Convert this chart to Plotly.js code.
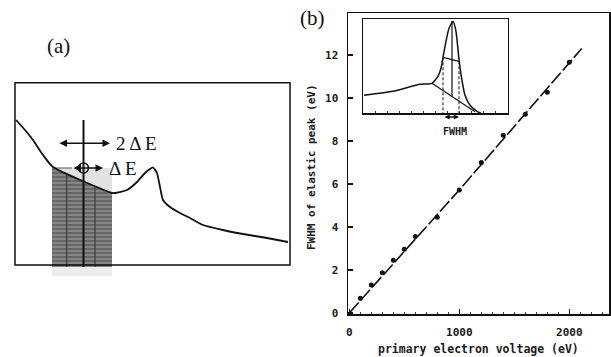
<!DOCTYPE html>
<html>
<head>
<meta charset="utf-8">
<script src="https://cdn.plot.ly/plotly-3.0.1.min.js"></script>
<style>html,body{margin:0;padding:0;background:#fff}#chart{width:611px;height:357px}</style>
</head>
<body>
<div id="chart"></div>
<script>
// ---- panel (b): measured FWHM of elastic peak vs primary voltage ----
const voltage = [100, 200, 300, 400, 500, 600, 800, 1000, 1200, 1400, 1600, 1800, 2000];
const fwhm    = [0.68, 1.3, 1.87, 2.45, 2.96, 3.55, 4.45, 5.72, 7.0, 8.26, 9.24, 10.26, 11.66];
const fitVoltage = [0, 1000, 2113];
const fitFwhm    = [0, 5.72, 12.3];
const xTickVals = [0, 1000, 2000];
const yTickVals = [0, 2, 4, 6, 8, 10, 12];

// ---- inset of (b): schematic elastic peak ----
const insetE = [1, 30, 57, 69, 75, 78, 80, 83, 86, 90, 93, 96, 99, 102, 107, 114, 118];
const insetI = [18, 22, 29, 30, 37, 45, 56, 72, 85, 92, 82, 54, 33, 18, 8, 2, 0];
const insetBgE = [69, 112];
const insetBgI = [30, 1.6];
const insetHalfE = [80, 96];
const insetHalfI = [56, 52];
const insetCenterE = [89, 89];
const insetCenterI = [92, 16.5];

// ---- panel (a): schematic spectrum ----
const specE = [1, 10, 18, 28, 38, 97, 100, 112, 122, 130, 135, 138, 142, 145, 148, 155, 165, 175, 188, 208, 228, 252, 273];
const specI = [145, 135, 125, 110, 98, 72, 72, 75, 83, 92, 96, 97.5, 92, 78, 65, 58, 52, 47, 40, 35, 31, 27, 23];
const shadeE = [37, 97, 97, 37, 37];
const shadeI = [97, 72, -2, -2, 97];
const lightE = [37, 97, 97, 37];
const lightI = [97, 97, 72, 97];
const shadowE = [37, 97, 97, 37, 37];
const shadowI = [-2, -2, -11, -11, -2];
const windowE = 68.5;

const W = 611, H = 357;
const px = v => v / W, py = v => 1 - v / H;

const traces = [
  // panel (a)
  {x: shadowE, y: shadowI, xaxis: 'x2', yaxis: 'y2', mode: 'lines', fill: 'toself',
   fillcolor: '#ececec', line: {width: 0}, hoverinfo: 'skip'},
  {x: lightE, y: lightI, xaxis: 'x2', yaxis: 'y2', mode: 'lines', fill: 'toself',
   fillcolor: '#e2e2e2', line: {width: 0}, hoverinfo: 'skip'},
  {x: shadeE, y: shadeI, xaxis: 'x2', yaxis: 'y2', mode: 'lines', fill: 'toself',
   fillcolor: '#7c7c7c', line: {width: 0},
   fillpattern: {shape: '-', bgcolor: '#858585', fgcolor: '#5a5a5a', size: 4, solidity: 0.35},
   hoverinfo: 'skip'},
  {x: [37, 57], y: [97, 97], xaxis: 'x2', yaxis: 'y2', mode: 'lines',
   line: {color: '#555', width: 1}, hoverinfo: 'skip'},
  {x: specE, y: specI, xaxis: 'x2', yaxis: 'y2', mode: 'lines',
   line: {color: '#111', width: 1.8, shape: 'spline', smoothing: 0.5}, hoverinfo: 'skip'},
  {x: [51.7, 51.7], y: [90.8, -2], xaxis: 'x2', yaxis: 'y2', mode: 'lines',
   line: {color: '#333', width: 1}, hoverinfo: 'skip'},
  {x: [80, 80], y: [78.9, -2], xaxis: 'x2', yaxis: 'y2', mode: 'lines',
   line: {color: '#333', width: 1}, hoverinfo: 'skip'},
  {x: [windowE, windowE], y: [145, -2], xaxis: 'x2', yaxis: 'y2', mode: 'lines',
   line: {color: '#111', width: 2}, hoverinfo: 'skip'},
  {x: [windowE], y: [97], xaxis: 'x2', yaxis: 'y2', mode: 'markers',
   marker: {symbol: 'circle-open', size: 10, color: '#111', line: {width: 1.6, color: '#111'}}, hoverinfo: 'skip'},

  // panel (b) main
  {x: fitVoltage, y: fitFwhm, mode: 'lines', line: {color: '#111', width: 1.6, dash: '14px,3px'}, hoverinfo: 'skip'},
  {x: voltage, y: fwhm, mode: 'markers', marker: {color: '#111', size: 5, symbol: 'circle'}},

  // inset
  {x: insetE, y: insetI, xaxis: 'x3', yaxis: 'y3', mode: 'lines',
   line: {color: '#111', width: 1.5, shape: 'spline', smoothing: 0.5}, hoverinfo: 'skip'},
  {x: insetBgE, y: insetBgI, xaxis: 'x3', yaxis: 'y3', mode: 'lines', line: {color: '#111', width: 1.2}, hoverinfo: 'skip'},
  {x: insetHalfE, y: insetHalfI, xaxis: 'x3', yaxis: 'y3', mode: 'lines', line: {color: '#111', width: 1.2}, hoverinfo: 'skip'},
  {x: insetCenterE, y: insetCenterI, xaxis: 'x3', yaxis: 'y3', mode: 'lines', line: {color: '#111', width: 1.2}, hoverinfo: 'skip'},
  {x: [insetHalfE[0], insetHalfE[0]], y: [insetHalfI[0], 0], xaxis: 'x3', yaxis: 'y3', mode: 'lines',
   line: {color: '#111', width: 1, dash: '3px,2px'}, hoverinfo: 'skip'},
  {x: [insetHalfE[1], insetHalfE[1]], y: [insetHalfI[1], 0], xaxis: 'x3', yaxis: 'y3', mode: 'lines',
   line: {color: '#111', width: 1, dash: '3px,2px'}, hoverinfo: 'skip'}
];

const tickFont = {family: 'DejaVu Sans Mono', size: 11, color: '#1a1a1a', weight: 'bold'};
const monoBold = {family: 'DejaVu Sans Mono', size: 11, color: '#1a1a1a', weight: 'bold'};
const serif = {family: 'Liberation Serif', size: 21, color: '#111'};

const arrow = (xr, yr, x0, x1, y) => ({
  xref: xr, yref: yr, axref: xr, ayref: yr, x: x1, y: y, ax: x0, ay: y,
  text: '', showarrow: true, arrowhead: 2, arrowside: 'end+start', arrowsize: 1,
  arrowwidth: 1.5, arrowcolor: '#111', standoff: 0, startstandoff: 0
});

const layout = {
  width: W, height: H,
  margin: {l: 0, r: 0, t: 0, b: 0},
  paper_bgcolor: '#fff', plot_bgcolor: '#fff',
  showlegend: false,
  xaxis: {
    domain: [px(348), px(609)], range: [-12, 2361], anchor: 'y',
    showline: true, linecolor: '#111', linewidth: 1.5, mirror: true,
    ticks: 'inside', ticklen: 5, tickwidth: 1.3, tickcolor: '#111',
    tickvals: xTickVals, ticktext: xTickVals.map(String), tickfont: tickFont,
    ticklabelstandoff: 7,
    minor: {dtick: 100, ticks: 'inside', ticklen: 2, tickcolor: '#333'},
    showgrid: false, zeroline: false, automargin: false
  },
  yaxis: {
    domain: [py(314), py(13)], range: [-0.05, 13.95], anchor: 'x',
    showline: true, linecolor: '#111', linewidth: 1.5, mirror: true,
    ticks: 'inside', ticklen: 5, tickwidth: 1.3, tickcolor: '#111',
    tickvals: yTickVals, ticktext: yTickVals.map(String), tickfont: tickFont,
    ticklabelstandoff: 6,
    showgrid: false, zeroline: false, automargin: false
  },
  xaxis2: {domain: [px(10), px(295)], range: [-5, 280], anchor: 'y2', visible: false},
  yaxis2: {domain: [py(285), py(75)], range: [-20, 190], anchor: 'x2', visible: false},
  xaxis3: {
    domain: [px(363), px(508)], range: [0, 145], anchor: 'y3',
    showline: true, linecolor: '#111', linewidth: 1.3, mirror: true,
    ticks: 'inside', ticklen: 2, dtick: 12, tickcolor: '#333', showticklabels: false,
    showgrid: false, zeroline: false
  },
  yaxis3: {
    domain: [py(113.3), py(19)], range: [0, 94.3], anchor: 'x3',
    showline: true, linecolor: '#111', linewidth: 1.3, mirror: true,
    ticks: '', showticklabels: false, showgrid: false, zeroline: false
  },
  shapes: [
    {type: 'rect', xref: 'x2', yref: 'y2', x0: 0, x1: 275, y0: 0, y1: 182.3,
     line: {color: '#111', width: 1.5}, fillcolor: 'rgba(0,0,0,0)'}
  ],
  annotations: [
    {xref: 'paper', yref: 'paper', x: px(58), y: py(46), text: '(a)', showarrow: false, font: serif, xanchor: 'center', yanchor: 'middle'},
    {xref: 'paper', yref: 'paper', x: px(312), y: py(18), text: '(b)', showarrow: false, font: serif, xanchor: 'center', yanchor: 'middle'},
    {xref: 'paper', yref: 'paper', x: px(136), y: py(143), text: '2 Δ E', showarrow: false,
     font: {family: 'Liberation Serif', size: 19, color: '#111'}, xanchor: 'center', yanchor: 'middle'},
    {xref: 'paper', yref: 'paper', x: px(123), y: py(168), text: 'Δ E', showarrow: false,
     font: {family: 'Liberation Serif', size: 19, color: '#111'}, xanchor: 'center', yanchor: 'middle'},
    arrow('x2', 'y2', 43, 95, 121.7),
    arrow('x2', 'y2', 57, 88, 97),
    {xref: 'paper', yref: 'paper', x: px(459), y: py(117), ax: -16, ay: 0,
     text: '', showarrow: true, arrowhead: 2, arrowside: 'end+start', arrowsize: 0.8,
     arrowwidth: 1.3, arrowcolor: '#111', standoff: 0, startstandoff: 0},
    {xref: 'paper', yref: 'paper', x: px(455), y: py(131), text: 'FWHM', showarrow: false,
     font: {family: 'DejaVu Sans Mono', size: 10, color: '#1a1a1a', weight: 'bold'}, xanchor: 'center', yanchor: 'middle'},
    {xref: 'paper', yref: 'paper', x: px(478), y: py(349), text: 'primary electron voltage (eV)', showarrow: false,
     font: {family: 'DejaVu Sans Mono', size: 11.5, color: '#1a1a1a', weight: 'bold'}, xanchor: 'center', yanchor: 'middle'},
    {xref: 'paper', yref: 'paper', x: px(311), y: py(167), text: 'FWHM of elastic peak (eV)', showarrow: false,
     textangle: -90, font: monoBold, xanchor: 'center', yanchor: 'middle'}
  ]
};

Plotly.newPlot('chart', traces, layout, {staticPlot: true, displayModeBar: false});
</script>
</body>
</html>
